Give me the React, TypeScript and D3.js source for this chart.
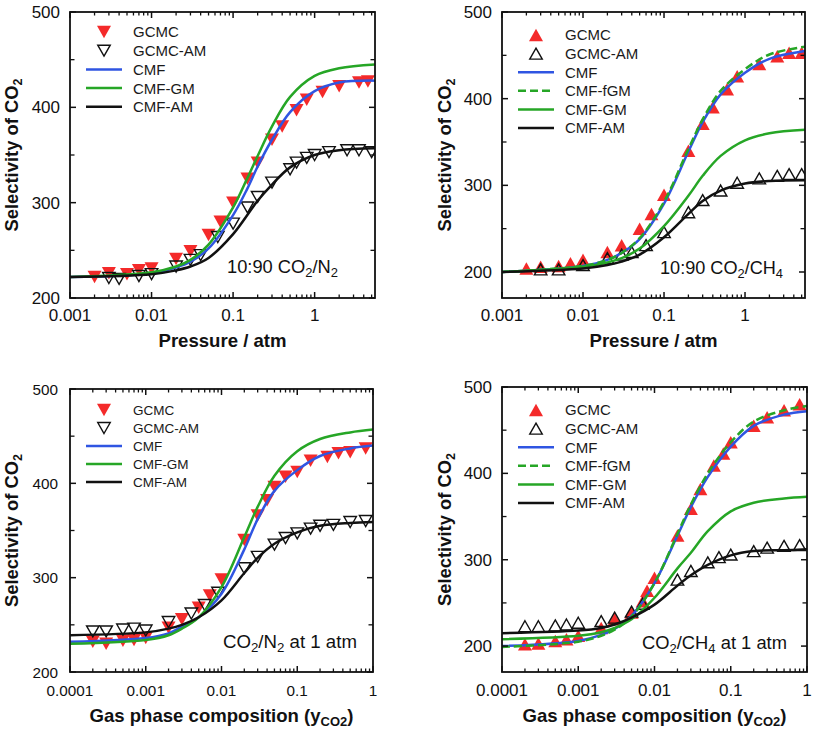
import React from "react";
import * as d3 from "d3";

type Pt = [number, number];

// ---------- tick values / labels ----------
const pressureTicks = [0.001, 0.01, 0.1, 1];
const pressureTickLabels = ["0.001", "0.01", "0.1", "1"];
const compositionTicks = [0.0001, 0.001, 0.01, 0.1, 1];
const compositionTickLabels = ["0.0001", "0.001", "0.01", "0.1", "1"];
const selectivityTicks = [200, 300, 400, 500];
const selectivityTickLabels = ["200", "300", "400", "500"];

// ---------- panel (a): 10:90 CO2/N2 vs pressure ----------
const aGCMC: Pt[] = [[0.002,222],[0.003,226],[0.005,225],[0.007,229],[0.01,231],[0.02,241],[0.03,249],[0.05,266],[0.07,280],[0.1,300],[0.15,325],[0.2,342],[0.3,366],[0.4,380],[0.6,397],[0.8,408],[1.25,416],[2,422],[3.5,426],[4.5,427]];
const aGCMCAM: Pt[] = [[0.003,221],[0.004,220],[0.007,223],[0.01,225],[0.02,233],[0.03,240],[0.04,245],[0.065,264],[0.1,278],[0.15,295],[0.2,306],[0.3,321],[0.5,335],[0.6,342],[0.8,347],[1,350],[1.5,353],[2.5,355],[3.5,355],[5,353]];
const aCMF: Pt[] = [[0.001,222],[0.01,226],[0.02,232],[0.03,238],[0.05,252],[0.1,287],[0.15,315],[0.2,338],[0.3,366],[0.5,395],[1,417],[2,426],[5.5,428]];
const aCMFGM: Pt[] = [[0.001,222],[0.01,227],[0.02,233],[0.03,240],[0.05,256],[0.1,295],[0.15,326],[0.2,349],[0.3,380],[0.5,411],[1,433],[2,441],[5.5,445]];
const aCMFAM: Pt[] = [[0.001,222],[0.01,225],[0.02,229],[0.03,233],[0.05,242],[0.1,267],[0.2,302],[0.3,319],[0.5,337],[1,350],[2,355],[5.5,357]];

// ---------- panel (b): 10:90 CO2/CH4 vs pressure ----------
const bGCMC: Pt[] = [[0.002,204],[0.003,206],[0.005,207],[0.007,210],[0.01,214],[0.02,223],[0.03,231],[0.05,250],[0.07,267],[0.1,289],[0.2,340],[0.3,371],[0.4,390],[0.6,411],[0.8,426],[1.5,440],[2.5,449],[3.5,453],[5,453]];
const bGCMCAM: Pt[] = [[0.003,203],[0.005,203],[0.01,208],[0.02,216],[0.03,220],[0.04,223],[0.06,231],[0.1,246],[0.2,269],[0.3,283],[0.5,294],[0.8,303],[1.5,308],[2.5,311],[3.5,313],[5,313]];
const bCMF: Pt[] = [[0.001,200],[0.01,207],[0.02,214],[0.03,222],[0.05,238],[0.1,279],[0.2,339],[0.3,373],[0.5,405],[1,430],[2,446],[5.5,455]];
const bCMFfGM: Pt[] = [[0.001,200],[0.01,207],[0.02,214],[0.03,222],[0.05,239],[0.1,281],[0.2,342],[0.3,376],[0.5,409],[1,434],[2,451],[5.5,460]];
const bCMFGM: Pt[] = [[0.001,200],[0.01,206],[0.02,211],[0.03,216],[0.05,227],[0.1,253],[0.2,288],[0.3,311],[0.5,334],[1,352],[2,360],[5.5,364]];
const bCMFAM: Pt[] = [[0.001,200],[0.01,204],[0.02,208],[0.03,212],[0.05,220],[0.1,240],[0.2,267],[0.3,282],[0.5,294],[1,302],[2,305],[5.5,306]];

// ---------- panel (c): CO2/N2 at 1 atm vs composition ----------
const cGCMC: Pt[] = [[0.0002,232],[0.0003,230],[0.0005,233],[0.0007,234],[0.001,236],[0.002,247],[0.003,256],[0.005,268],[0.007,281],[0.01,298],[0.02,340],[0.03,366],[0.04,382],[0.05,396],[0.07,407],[0.1,412],[0.15,424],[0.25,428],[0.35,432],[0.5,433],[0.8,437]];
const cGCMCAM: Pt[] = [[0.0002,243],[0.0003,243],[0.0005,245],[0.0007,246],[0.001,244],[0.002,253],[0.004,262],[0.006,271],[0.009,284],[0.02,310],[0.03,322],[0.05,335],[0.07,342],[0.1,347],[0.15,352],[0.2,355],[0.3,356],[0.5,359],[0.8,360]];
const cCMF: Pt[] = [[0.0001,232],[0.001,236],[0.002,241],[0.003,248],[0.005,258],[0.01,283],[0.02,330],[0.03,362],[0.05,392],[0.1,414],[0.2,429],[0.5,437],[1,440]];
const cCMFGM: Pt[] = [[0.0001,230],[0.001,234],[0.002,239],[0.003,246],[0.005,258],[0.01,290],[0.02,343],[0.03,375],[0.05,408],[0.1,434],[0.2,447],[0.5,454],[1,457]];
const cCMFAM: Pt[] = [[0.0001,239],[0.001,242],[0.002,246],[0.003,250],[0.005,258],[0.01,276],[0.02,305],[0.03,321],[0.05,336],[0.1,348],[0.2,355],[0.5,358],[1,359]];

// ---------- panel (d): CO2/CH4 at 1 atm vs composition ----------
const dGCMC: Pt[] = [[0.0002,202],[0.0003,203],[0.0005,206],[0.0007,208],[0.001,212],[0.002,221],[0.003,231],[0.005,239],[0.007,252],[0.008,264],[0.01,279],[0.02,328],[0.03,359],[0.04,382],[0.06,409],[0.08,423],[0.1,436],[0.2,455],[0.3,465],[0.5,473],[0.8,480]];
const dGCMCAM: Pt[] = [[0.0002,223],[0.0003,223],[0.0005,224],[0.0007,225],[0.001,227],[0.002,229],[0.003,233],[0.005,240],[0.007,249],[0.02,277],[0.03,287],[0.05,297],[0.07,303],[0.1,306],[0.2,310],[0.3,314],[0.5,316],[0.8,317]];
const dCMF: Pt[] = [[0.0001,200],[0.001,206],[0.002,213],[0.003,220],[0.005,235],[0.01,273],[0.02,328],[0.03,361],[0.05,396],[0.1,431],[0.2,455],[0.5,468],[1,472]];
const dCMFfGM: Pt[] = [[0.0001,199],[0.001,205],[0.002,212],[0.003,219],[0.005,234],[0.01,273],[0.02,330],[0.03,364],[0.05,400],[0.1,436],[0.2,460],[0.5,473],[1,478]];
const dCMFGM: Pt[] = [[0.0001,208],[0.001,212],[0.002,216],[0.003,221],[0.005,231],[0.01,256],[0.02,290],[0.03,308],[0.05,333],[0.1,356],[0.2,366],[0.5,371],[1,373]];
const dCMFAM: Pt[] = [[0.0001,215],[0.001,218],[0.002,221],[0.003,225],[0.005,233],[0.01,248],[0.02,270],[0.03,282],[0.05,294],[0.1,305],[0.2,310],[0.5,311],[1,312]];

// ---------- styles ----------
const FONT = "'Liberation Sans', Arial, Helvetica, sans-serif";
const RED = "#f42a2a";
const BLUE = "#2f55e2";
const GREEN = "#26a626";
const BLACK = "#111";

type Part = [string, boolean]; // [text, isSubscript]

type Series = {
  kind: "filled" | "open" | "line";
  data: Pt[];
  color: string;
  dash?: string;
  label: string;
};

type PanelCfg = {
  id: string;
  left: number; right: number; top: number; bottom: number;
  xDomain: [number, number];
  yDomain: [number, number];
  xTicks: number[]; xTickLabels: string[];
  up: boolean;
  series: Series[];
  note: Part[];
  noteX: number; noteY: number; noteLen: number;
  xLabel: Part[]; xLabelLen: number;
  yLabelX: number;
  xLabelY: number;
  xTickY: number;
  tickSize: number;
  yTickGap: number;
  legendY0: number; legendStep: number; legendSize: number;
};

const yLabelParts: Part[] = [["Selectivity of CO", false], ["2", true]];
const pressureLabel: Part[] = [["Pressure / atm", false]];
const compLabel: Part[] = [["Gas phase composition (y", false], ["CO2", true], [")", false]];

const panels: PanelCfg[] = [
  {
    id: "a", left: 70, right: 375, top: 12, bottom: 298,
    xDomain: [0.001, 5.5], yDomain: [200, 500],
    xTicks: pressureTicks, xTickLabels: pressureTickLabels, up: false,
    series: [
      { kind: "filled", data: aGCMC, color: RED, label: "GCMC" },
      { kind: "open", data: aGCMCAM, color: BLACK, label: "GCMC-AM" },
      { kind: "line", data: aCMF, color: BLUE, label: "CMF" },
      { kind: "line", data: aCMFGM, color: GREEN, label: "CMF-GM" },
      { kind: "line", data: aCMFAM, color: BLACK, label: "CMF-AM" },
    ],
    note: [["10:90 CO", false], ["2", true], ["/N", false], ["2", true]],
    noteX: 227, noteY: 273, noteLen: 111,
    xLabel: pressureLabel, xLabelLen: 128, yLabelX: 18, xLabelY: 347, xTickY: 321,
    tickSize: 17, yTickGap: 10,
    legendY0: 32, legendStep: 18.7, legendSize: 15,
  },
  {
    id: "b", left: 502, right: 805, top: 12, bottom: 298,
    xDomain: [0.001, 5.5], yDomain: [170, 500],
    xTicks: pressureTicks, xTickLabels: pressureTickLabels, up: true,
    series: [
      { kind: "filled", data: bGCMC, color: RED, label: "GCMC" },
      { kind: "open", data: bGCMCAM, color: BLACK, label: "GCMC-AM" },
      { kind: "line", data: bCMF, color: BLUE, label: "CMF" },
      { kind: "line", data: bCMFfGM, color: GREEN, dash: "8,4", label: "CMF-fGM" },
      { kind: "line", data: bCMFGM, color: GREEN, label: "CMF-GM" },
      { kind: "line", data: bCMFAM, color: BLACK, label: "CMF-AM" },
    ],
    note: [["10:90 CO", false], ["2", true], ["/CH", false], ["4", true]],
    noteX: 660, noteY: 274, noteLen: 123,
    xLabel: pressureLabel, xLabelLen: 128, yLabelX: 451, xLabelY: 347, xTickY: 321,
    tickSize: 17, yTickGap: 10,
    legendY0: 35, legendStep: 18.6, legendSize: 15,
  },
  {
    id: "c", left: 70, right: 373, top: 389, bottom: 672,
    xDomain: [0.0001, 1], yDomain: [200, 500],
    xTicks: compositionTicks, xTickLabels: compositionTickLabels, up: false,
    series: [
      { kind: "filled", data: cGCMC, color: RED, label: "GCMC" },
      { kind: "open", data: cGCMCAM, color: BLACK, label: "GCMC-AM" },
      { kind: "line", data: cCMF, color: BLUE, label: "CMF" },
      { kind: "line", data: cCMFGM, color: GREEN, label: "CMF-GM" },
      { kind: "line", data: cCMFAM, color: BLACK, label: "CMF-AM" },
    ],
    note: [["CO", false], ["2", true], ["/N", false], ["2", true], [" at 1 atm", false]],
    noteX: 223, noteY: 648, noteLen: 134,
    xLabel: compLabel, xLabelLen: 264, yLabelX: 18, xLabelY: 722, xTickY: 696,
    tickSize: 15.3, yTickGap: 12,
    legendY0: 410, legendStep: 18, legendSize: 13.5,
  },
  {
    id: "d", left: 502, right: 807, top: 387, bottom: 672,
    xDomain: [0.0001, 1], yDomain: [170, 500],
    xTicks: compositionTicks, xTickLabels: compositionTickLabels, up: true,
    series: [
      { kind: "filled", data: dGCMC, color: RED, label: "GCMC" },
      { kind: "open", data: dGCMCAM, color: BLACK, label: "GCMC-AM" },
      { kind: "line", data: dCMF, color: BLUE, label: "CMF" },
      { kind: "line", data: dCMFfGM, color: GREEN, dash: "8,4", label: "CMF-fGM" },
      { kind: "line", data: dCMFGM, color: GREEN, label: "CMF-GM" },
      { kind: "line", data: dCMFAM, color: BLACK, label: "CMF-AM" },
    ],
    note: [["CO", false], ["2", true], ["/CH", false], ["4", true], [" at 1 atm", false]],
    noteX: 642, noteY: 649, noteLen: 145,
    xLabel: compLabel, xLabelLen: 264, yLabelX: 451, xLabelY: 722, xTickY: 696,
    tickSize: 17, yTickGap: 10,
    legendY0: 410, legendStep: 18.6, legendSize: 15,
  },
];

function triPath(w: number, h: number, up: boolean): string {
  const s = up ? 1 : -1;
  return `M0,${(-s * h) / 2}L${w / 2},${(s * h) / 2}L${-w / 2},${(s * h) / 2}Z`;
}

function RichText({ parts, size, subSize, shift }: { parts: Part[]; size: number; subSize: number; shift: number }) {
  const out: React.ReactNode[] = [];
  let inSub = false;
  parts.forEach(([t, sub], i) => {
    let dy = 0;
    if (sub && !inSub) dy = shift;
    if (!sub && inSub) dy = -shift;
    inSub = sub;
    out.push(
      <tspan key={i} dy={dy} fontSize={sub ? subSize : size}>
        {t}
      </tspan>
    );
  });
  return <>{out}</>;
}

function Panel({ p }: { p: PanelCfg }) {
  const x = d3.scaleLog().domain(p.xDomain).range([p.left, p.right]);
  const y = d3.scaleLinear().domain(p.yDomain).range([p.bottom, p.top]);
  const line = d3
    .line<Pt>()
    .x((d) => x(d[0]))
    .y((d) => y(d[1]))
    .curve(d3.curveCatmullRom.alpha(0.5));

  const minorX: number[] = [];
  p.xTicks.forEach((t) => {
    for (let k = 2; k <= 9; k++) {
      const v = t * k;
      if (v < p.xDomain[1] * 0.999) minorX.push(v);
    }
  });
  const minorY: number[] = [];
  for (let v = 250; v < p.yDomain[1]; v += 100) if (v > p.yDomain[0]) minorY.push(v);

  const MAJ = 6;
  const MIN = 3.5;
  const clipId = `clip-${p.id}`;
  const cx = (p.left + p.right) / 2;
  const cy = (p.top + p.bottom) / 2;

  const legendMarkX = p.left + 34;
  const legendLineX0 = p.left + 16;
  const legendLineX1 = p.left + 52;
  const legendTextX = p.left + 63;

  return (
    <g>
      <defs>
        <clipPath id={clipId}>
          <rect x={p.left} y={p.top} width={p.right - p.left} height={p.bottom - p.top} />
        </clipPath>
      </defs>

      {/* markers */}
      <g clipPath={`url(#${clipId})`}>
        {p.series
          .filter((s) => s.kind !== "line")
          .map((s, si) =>
            s.data.map((d, i) => (
              <path
                key={`${si}-${i}`}
                d={s.kind === "filled" ? triPath(14, 12.5, p.up) : triPath(12.5, 11, p.up)}
                transform={`translate(${x(d[0])},${y(d[1])})`}
                fill={s.kind === "filled" ? s.color : "none"}
                stroke={s.kind === "filled" ? "none" : s.color}
                strokeWidth={1.4}
              />
            ))
          )}
        {/* lines */}
        {p.series
          .filter((s) => s.kind === "line")
          .map((s, si) => (
            <path
              key={`l-${si}`}
              d={line(s.data) || ""}
              fill="none"
              stroke={s.color}
              strokeWidth={2.5}
              strokeDasharray={s.dash}
            />
          ))}
      </g>

      {/* frame */}
      <rect
        x={p.left}
        y={p.top}
        width={p.right - p.left}
        height={p.bottom - p.top}
        fill="none"
        stroke="#111"
        strokeWidth={1.8}
      />

      {/* x ticks (bottom & top, inward) */}
      {p.xTicks.map((t) => (
        <g key={`xt-${t}`}>
          <line x1={x(t)} x2={x(t)} y1={p.bottom} y2={p.bottom - MAJ} stroke="#111" strokeWidth={1.5} />
          <line x1={x(t)} x2={x(t)} y1={p.top} y2={p.top + MAJ} stroke="#111" strokeWidth={1.5} />
        </g>
      ))}
      {minorX.map((t) => (
        <g key={`xm-${t}`}>
          <line x1={x(t)} x2={x(t)} y1={p.bottom} y2={p.bottom - MIN} stroke="#111" strokeWidth={1.3} />
          <line x1={x(t)} x2={x(t)} y1={p.top} y2={p.top + MIN} stroke="#111" strokeWidth={1.3} />
        </g>
      ))}
      {p.xTicks.map((t, i) => (
        <text
          key={`xl-${t}`}
          x={x(t)}
          y={p.xTickY}
          textAnchor="middle"
          fontFamily={FONT}
          fontSize={p.tickSize}
          fill="#111"
        >
          {p.xTickLabels[i]}
        </text>
      ))}

      {/* y ticks (left & right, inward) */}
      {selectivityTicks.map((t) => (
        <g key={`yt-${t}`}>
          <line x1={p.left} x2={p.left + MAJ} y1={y(t)} y2={y(t)} stroke="#111" strokeWidth={1.5} />
          <line x1={p.right} x2={p.right - MAJ} y1={y(t)} y2={y(t)} stroke="#111" strokeWidth={1.5} />
        </g>
      ))}
      {minorY.map((t) => (
        <g key={`ym-${t}`}>
          <line x1={p.left} x2={p.left + MIN + 1} y1={y(t)} y2={y(t)} stroke="#111" strokeWidth={1.3} />
          <line x1={p.right} x2={p.right - MIN - 1} y1={y(t)} y2={y(t)} stroke="#111" strokeWidth={1.3} />
        </g>
      ))}
      {selectivityTicks.map((t, i) => (
        <text
          key={`yl-${t}`}
          x={p.left - p.yTickGap}
          y={y(t)}
          dy="0.36em"
          textAnchor="end"
          fontFamily={FONT}
          fontSize={p.tickSize}
          fill="#111"
        >
          {selectivityTickLabels[i]}
        </text>
      ))}

      {/* axis titles */}
      <text
        transform={`translate(${p.yLabelX},${cy}) rotate(-90)`}
        textAnchor="middle"
        fontFamily={FONT}
        fontWeight="bold"
        fontSize={17.5}
        fill="#111"
        textLength={153}
        lengthAdjust="spacingAndGlyphs"
      >
        <RichText parts={yLabelParts} size={17.5} subSize={12} shift={4} />
      </text>
      <text
        x={cx}
        y={p.xLabelY}
        textAnchor="middle"
        fontFamily={FONT}
        fontWeight="bold"
        fontSize={18.6}
        fill="#111"
        textLength={p.xLabelLen}
        lengthAdjust="spacingAndGlyphs"
      >
        <RichText parts={p.xLabel} size={18.6} subSize={13} shift={4} />
      </text>

      {/* annotation */}
      <text
        x={p.noteX}
        y={p.noteY}
        fontFamily={FONT}
        fontSize={18.3}
        fill="#111"
        textLength={p.noteLen}
        lengthAdjust="spacingAndGlyphs"
      >
        <RichText parts={p.note} size={18.3} subSize={13} shift={4} />
      </text>

      {/* legend */}
      {p.series.map((s, i) => {
        const ly = p.legendY0 + i * p.legendStep;
        return (
          <g key={`lg-${i}`}>
            {s.kind === "line" ? (
              <line
                x1={legendLineX0}
                x2={legendLineX1}
                y1={ly}
                y2={ly}
                stroke={s.color}
                strokeWidth={2.5}
                strokeDasharray={s.dash}
              />
            ) : (
              <path
                d={s.kind === "filled" ? triPath(14, 12.5, p.up) : triPath(12.5, 11, p.up)}
                transform={`translate(${legendMarkX},${ly})`}
                fill={s.kind === "filled" ? s.color : "none"}
                stroke={s.kind === "filled" ? "none" : s.color}
                strokeWidth={1.4}
              />
            )}
            <text x={legendTextX} y={ly} dy="0.36em" fontFamily={FONT} fontSize={p.legendSize} fill="#1a1a1a">
              {s.label}
            </text>
          </g>
        );
      })}
    </g>
  );
}

export default function App() {
  return (
    <svg
      width={815}
      height={729}
      viewBox="0 0 815 729"
      style={{ position: "absolute", left: 0, top: 0, background: "#fff", display: "block" }}
    >
      <rect width={815} height={729} fill="#fff" />
      {panels.map((p) => (
        <Panel key={p.id} p={p} />
      ))}
    </svg>
  );
}
